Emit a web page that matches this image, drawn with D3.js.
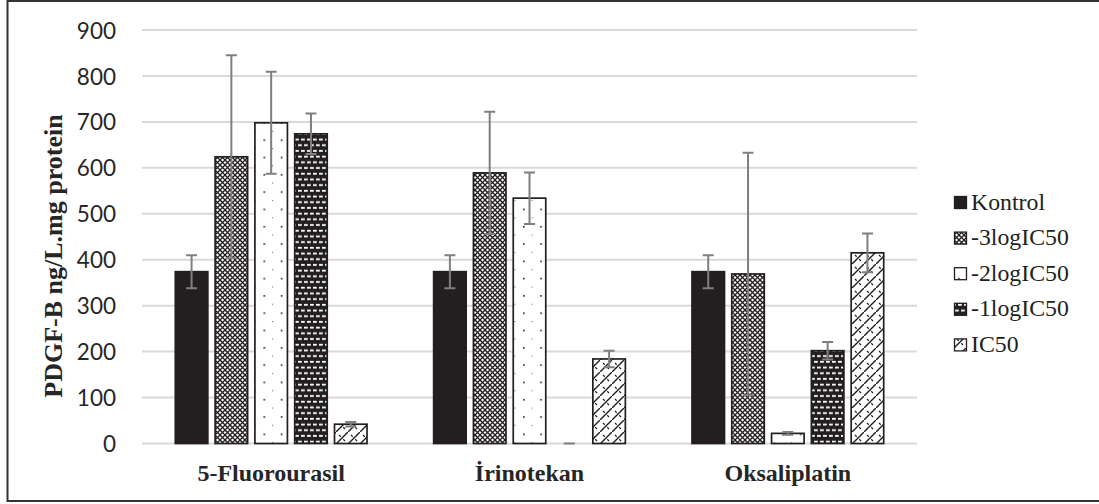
<!DOCTYPE html>
<html>
<head>
<meta charset="utf-8">
<script src="https://cdn.jsdelivr.net/npm/d3@7"></script>
<style>
html,body{margin:0;padding:0;background:#fff;}
svg{display:block;}
</style>
</head>
<body>
<svg id="chart" width="1099" height="504"></svg>
<script>
// ---- data ----
const categories = ["5-Fluorourasil", "İrinotekan", "Oksaliplatin"];
const seriesNames = ["Kontrol", "-3logIC50", "-2logIC50", "-1logIC50", "IC50"];
const kontrol   = [374, 374, 374];
const log3IC50  = [624, 589, 369];
const log2IC50  = [698, 534, 22];
const log1IC50  = [674, 0, 202];
const ic50      = [42, 184, 415];
const kontrolErr = [36, 36, 36];
const log3Err    = [221, 133, 264];
const log2Err    = [111, 56, 3];
const log1Err    = [44, 0, 19];
const ic50Err    = [5, 18, 42];
const yTicks = [0, 100, 200, 300, 400, 500, 600, 700, 800, 900];
const yTitle = "PDGF-B ng/L.mg protein";

const seriesValues = [kontrol, log3IC50, log2IC50, log1IC50, ic50];
const seriesErrors = [kontrolErr, log3Err, log2Err, log1Err, ic50Err];

const svg = d3.select("#chart");
const defs = svg.append("defs");
const ink = "#231f20";

// ---- patterns ----
let p = defs.append("pattern").attr("id","pat1").attr("patternUnits","userSpaceOnUse").attr("width",5).attr("height",5);
p.append("rect").attr("width",5).attr("height",5).attr("fill","#fff");
p.append("path").attr("d","M0,0L5,5M5,0L0,5").attr("stroke",ink).attr("stroke-width",1.3);
p.append("rect").attr("x",0).attr("y",0).attr("width",1.2).attr("height",1.2).attr("fill",ink);

p = defs.append("pattern").attr("id","pat2").attr("patternUnits","userSpaceOnUse").attr("width",17.3).attr("height",17.3).attr("x",3);
p.append("rect").attr("width",17.3).attr("height",17.3).attr("fill","#fff");
p.append("rect").attr("x",1).attr("y",1).attr("width",1.6).attr("height",1.6).attr("fill",ink);
p.append("rect").attr("x",9.7).attr("y",9.7).attr("width",1).attr("height",1).attr("fill","#555");

p = defs.append("pattern").attr("id","pat3").attr("patternUnits","userSpaceOnUse").attr("width",12).attr("height",11.4);
p.append("rect").attr("width",12).attr("height",11.4).attr("fill",ink);
p.append("rect").attr("x",1).attr("y",1.8).attr("width",3.8).attr("height",1.8).attr("fill","#fff");
p.append("rect").attr("x",7).attr("y",1.8).attr("width",3.8).attr("height",1.8).attr("fill","#fff");
p.append("rect").attr("x",4).attr("y",7.5).attr("width",3.8).attr("height",1.8).attr("fill","#fff");
p.append("rect").attr("x",10).attr("y",7.5).attr("width",3.8).attr("height",1.8).attr("fill","#fff");
p.append("rect").attr("x",-2).attr("y",7.5).attr("width",3.8).attr("height",1.8).attr("fill","#fff");

p = defs.append("pattern").attr("id","pat4").attr("patternUnits","userSpaceOnUse").attr("width",12).attr("height",12);
p.append("rect").attr("width",12).attr("height",12).attr("fill","#fff");
p.append("path").attr("d","M-1,13L13,-1").attr("stroke",ink).attr("stroke-width",1.4);
p.append("path").attr("d","M3,3L9,9").attr("stroke",ink).attr("stroke-width",1.2).attr("stroke-dasharray","2.5,3.5");

const fills = [ink, "url(#pat1)", "url(#pat2)", "url(#pat3)", "url(#pat4)"];

// ---- frame ----
svg.append("rect").attr("x",7.5).attr("y",1).attr("width",1100).attr("height",500)
  .attr("fill","none").attr("stroke","#333").attr("stroke-width",2);

// ---- scales ----
const plotL = 142, plotR = 917;
const y = d3.scaleLinear().domain([0, 900]).range([443.5, 30]);
const x0 = d3.scaleBand().domain(categories).range([plotL, plotR]);
const groupW = 199;
const x1 = d3.scaleBand().domain(seriesNames).range([0, groupW]).paddingInner(0.183).paddingOuter(0.0915);

// ---- grid ----
svg.append("g").selectAll("line").data(yTicks).join("line")
  .attr("x1", plotL).attr("x2", plotR)
  .attr("y1", d => y(d)).attr("y2", d => y(d))
  .attr("stroke", "#d9d9d9").attr("stroke-width", 2);

// ---- y axis labels ----
const yAxis = d3.axisLeft(y).tickValues(yTicks).tickSize(0).tickPadding(0).tickFormat(d3.format("d"));
const ya = svg.append("g").attr("transform","translate(116,0)").call(yAxis);
ya.select(".domain").remove();
ya.selectAll("text").attr("font-family","Lato, 'Open Sans', sans-serif").attr("font-size",22.5)
  .attr("fill","#262626").attr("dy","0.36em");

// ---- bars ----
const gBars = svg.append("g");
seriesNames.forEach((s, si) => {
  const offs = d => x0(d) + x0.bandwidth()/2 - groupW/2 + x1(s);
  const data = categories.map((c, ci) => ({c, v: seriesValues[si][ci], e: seriesErrors[si][ci]}));
  gBars.append("g").selectAll("rect").data(data.filter(d => d.v > 0)).join("rect")
    .attr("x", d => offs(d.c))
    .attr("y", d => y(d.v))
    .attr("width", x1.bandwidth())
    .attr("height", d => y(0) - y(d.v))
    .attr("fill", fills[si])
    .attr("stroke", ink).attr("stroke-width", 1.7);
});
// ---- error bars ----
const gErr = svg.append("g").attr("stroke","#7f7f7f").attr("stroke-width",2).attr("fill","none");
seriesNames.forEach((s, si) => {
  categories.forEach((c, ci) => {
    const v = seriesValues[si][ci], e = seriesErrors[si][ci];
    const cx = x0(c) + x0.bandwidth()/2 - groupW/2 + x1(s) + x1.bandwidth()/2;
    const cap = 5.5;
    gErr.append("path").attr("d",
      `M${cx},${y(v+e)}L${cx},${y(v-e)}M${cx-cap},${y(v+e)}L${cx+cap},${y(v+e)}M${cx-cap},${y(v-e)}L${cx+cap},${y(v-e)}`);
  });
});

// ---- x labels ----
const xAxis = d3.axisBottom(x0).tickSize(0).tickPadding(0);
const xa = svg.append("g").attr("transform","translate(0,481)").call(xAxis);
xa.select(".domain").remove();
xa.selectAll("text").attr("font-family","'Liberation Serif', 'Times New Roman', serif")
  .attr("font-weight","bold").attr("font-size",24).attr("fill","#262626").attr("dy",0);

// ---- y title ----
svg.append("text").attr("transform","translate(62,256) rotate(-90)")
  .attr("text-anchor","middle")
  .attr("font-family","'Liberation Serif', 'Times New Roman', serif")
  .attr("font-weight","bold").attr("font-size",26).attr("fill","#262626")
  .text(yTitle);

// ---- legend ----
const lg = svg.append("g").attr("transform","translate(954,0)");
seriesNames.forEach((s, i) => {
  const by = 209.5 + i*35.6;
  lg.append("rect").attr("x",0.5).attr("y",by-13).attr("width",12).attr("height",12)
    .attr("fill",fills[i]).attr("stroke",ink).attr("stroke-width",1.3);
  lg.append("text").attr("x",17).attr("y",by)
    .attr("font-family","'Liberation Serif', 'Times New Roman', serif")
    .attr("font-size",23.8).attr("fill",ink).text(s);
});
</script>
</body>
</html>
